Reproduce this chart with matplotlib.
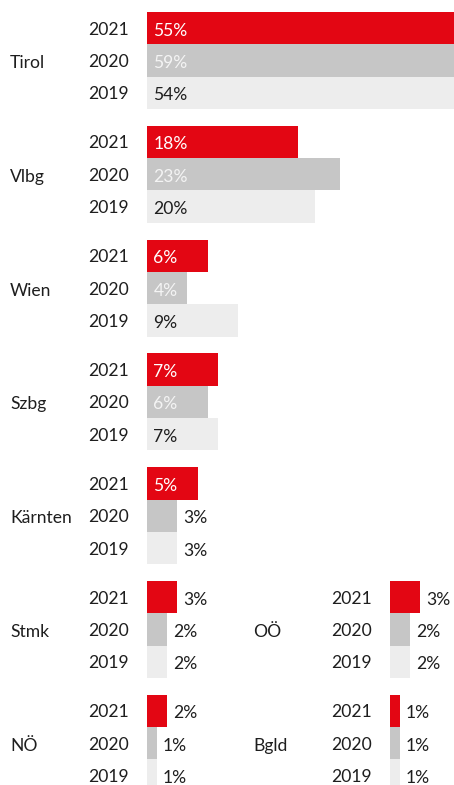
import matplotlib
matplotlib.use("Agg")
import matplotlib.pyplot as plt

# ---- data ----
regions = ["Tirol", "Vlbg", "Wien", "Szbg", "Kärnten", "Stmk", "OÖ", "NÖ", "Bgld"]
years = ["2021", "2020", "2019"]
v2021 = [55, 18, 6, 7, 5, 3, 3, 2, 1]
v2020 = [59, 23, 4, 6, 3, 2, 2, 1, 1]
v2019 = [54, 20, 9, 7, 3, 2, 2, 1, 1]

# ---- layout / style ----
W, H, DPI = 454, 785, 100
plt.rcParams['font.family'] = ['Lato', 'DejaVu Sans']
FS = 12.6
TXT = "#1E1E1E"
bar_colors = ["#E30613", "#C6C6C6", "#EDEDED"]
inside_colors = ["#FFFFFF", "#F4F4F4", "#1E1E1E"]

# (column, row) for each region
grid = [(0, 0), (0, 1), (0, 2), (0, 3), (0, 4), (0, 5), (1, 5), (0, 6), (1, 6)]
px_per_unit = [10.1, 8.4, 10.1, 10.1, 10.1, 10.1, 10.1, 10.1, 10.1]
col_x0 = [147, 390]
col_label_x = [10, 253]
top0, row_step, grp_h = 12, 113.8, 97

fig = plt.figure(figsize=(W / DPI, H / DPI), dpi=DPI)
pt = 72 / DPI  # points per pixel

for k, reg in enumerate(regions):
    col, row = grid[k]
    x0 = col_x0[col]
    if col == 0 and row <= 4:
        width = W - x0
    elif col == 0:
        width = 100
    else:
        width = W - x0
    top = top0 + row * row_step
    ax = fig.add_axes([x0 / W, 1 - (top + grp_h) / H, width / W, grp_h / H])
    vals = [v2021[k], v2020[k], v2019[k]]
    ax.barh(range(3), vals, height=1.0, color=bar_colors, linewidth=0)
    ax.set_xlim(0, width / px_per_unit[k])
    ax.set_ylim(2.5, -0.5)
    ax.set_yticks(range(3))
    ax.set_yticklabels(years, fontsize=FS, color=TXT)
    for lab in ax.get_yticklabels():
        lab.set_verticalalignment('center_baseline')
    ax.tick_params(axis='y', length=0, pad=18.5 * pt)
    ax.set_xticks([])
    for s in ax.spines.values():
        s.set_visible(False)
    for i, v in enumerate(vals):
        if v >= 4:
            ax.annotate(f"{v}%", xy=(0, i), xytext=(6.5 * pt, -1 * pt),
                        textcoords='offset points', va='center_baseline',
                        ha='left', fontsize=FS, color=inside_colors[i],
                        annotation_clip=False)
        else:
            ax.annotate(f"{v}%", xy=(v, i), xytext=(6 * pt, -1 * pt),
                        textcoords='offset points', va='center_baseline',
                        ha='left', fontsize=FS, color=TXT,
                        annotation_clip=False)
    cy = top + grp_h / 2 + 1
    fig.text(col_label_x[col] / W, 1 - cy / H, reg, fontsize=FS, color=TXT,
             ha='left', va='center_baseline')

fig.savefig("out.png", dpi=DPI)
